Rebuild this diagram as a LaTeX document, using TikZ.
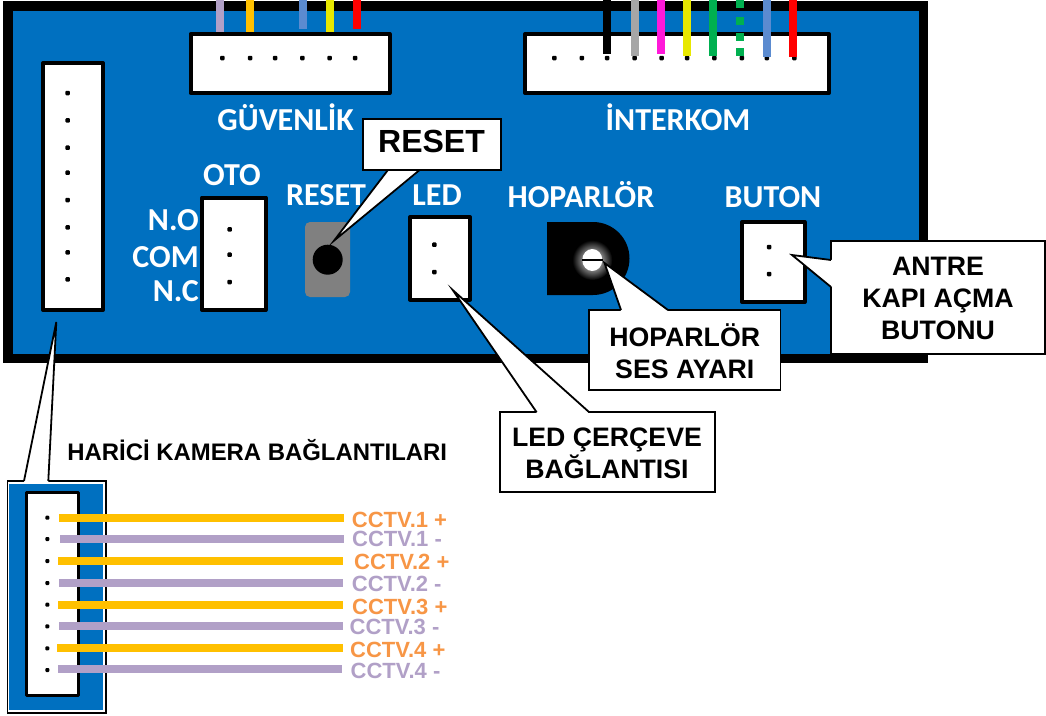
\documentclass[tikz,border=0pt]{standalone}
\usepackage{fontspec}
\setmainfont{Liberation Sans}
\newfontfamily\pcb{Carlito}
\definecolor{pcbblue}{HTML}{0070C0}
\definecolor{wgold}{HTML}{FFC000}
\definecolor{wpurple}{HTML}{B1A0C7}
\definecolor{wblue}{HTML}{5B8BD0}
\definecolor{wyellow}{HTML}{E8E800}
\definecolor{wred}{HTML}{FF0000}
\definecolor{wgray}{HTML}{A6A6A6}
\definecolor{wmag}{HTML}{FF19D9}
\definecolor{wgreen}{HTML}{00B050}
\definecolor{lorange}{HTML}{F79646}
\tikzset{
  x=1pt,y=-1pt,
  conn/.style={draw=black,line width=4pt,fill=white,line join=round},
  pin/.style={fill=black,minimum size=4.5pt,inner sep=0pt,draw=none,rectangle,rounded corners=1pt},
  wire/.style={line width=8pt},
  silk/.style={text=white,font=\pcb\bfseries\fontsize{32}{32}\selectfont,inner sep=0pt,anchor=center},
  callout/.style={draw=black,line width=1.8pt,fill=white,line join=miter},
  calltext/.style={font=\bfseries\fontsize{26.7}{32}\selectfont,align=center,inner sep=0pt,text=black},
  cam/.style={font=\bfseries\fontsize{22}{22}\selectfont,inner sep=0pt,anchor=west},
}
\begin{document}
\begin{tikzpicture}
\useasboundingbox (0,0) rectangle (1046,715);
% board
\fill[black] (3,1) rectangle (928,363);
\fill[pcbblue] (12.7,10.7) rectangle (919,354);
% connectors
\draw[conn] (43,63) rectangle (103,310);
\draw[conn] (190.5,34) rectangle (389.5,93);
\draw[conn] (525,34) rectangle (829,93);
\draw[conn] (202,197.5) rectangle (265.5,310);
\draw[conn] (410,217) rectangle (470,299.5);
\draw[conn] (742,222) rectangle (804.5,302);
% pins
\foreach \n/\yy in {1/93,2/120.3,3/147.7,4/172.7,5/200,6/227.3,7/252.3,8/279.3}
  \node[pin] (a\n) at (67.7,\yy) {};
\foreach \n/\xx in {1/222.3,2/250,3/275,4/302.3,5/329.7,6/355}
  \node[pin] (g\n) at (\xx,58) {};
\foreach \n/\xx in {1/554.4,2/581.9,3/607,4/634.5,5/661.7,6/687.1,7/714.3,8/741.8,9/766.9,10/794.4}
  \node[pin] (i\n) at (\xx,58) {};
\foreach \n/\yy in {1/229.3,2/254.7,3/282}
  \node[pin] (o\n) at (229.7,\yy) {};
\foreach \n/\yy in {1/244.7,2/272}
  \node[pin] (l\n) at (434.3,\yy) {};
\foreach \n/\yy in {1/247,2/274}
  \node[pin] (b\n) at (769,\yy) {};
% security wires
\draw[wire,wpurple] (219.7,0) -- (219.7,32);
\draw[wire,wgold] (250,0) -- (250,32);
\draw[wire,wblue] (303,0) -- (303,29);
\draw[wire,wyellow] (330,0) -- (330,32);
\draw[wire,wred] (357,0) -- (357,29);
% intercom wires
\draw[wire,black] (606.6,0) -- (606.6,54);
\draw[wire,wgray] (634.5,0) -- (634.5,56);
\draw[wire,wmag] (660.6,0) -- (660.6,54);
\draw[wire,wyellow] (687,0) -- (687,56);
\draw[wire,wgreen] (713,0) -- (713,56);
\draw[wire,wgreen] (740,0) -- (740,8) (740,17) -- (740,25) (740,33) -- (740,41) (740,48) -- (740,56);
\draw[wire,wblue] (767,0) -- (767,57);
\draw[wire,wred] (793,0) -- (793,57);
% silk labels
\node[silk] (tg) at (285.7,117) {GÜVENLİK};
\node[silk] (ti) at (678,117) {İNTERKOM};
\node[silk] (to) at (232,175) {OTO};
\node[silk] (tr) at (326,195) {RESET};
\node[silk] (tl) at (437,195) {LED};
\node[silk] (th) at (581,195) {HOPARLÖR};
\node[silk] (tb) at (773,197) {BUTON};
\node[silk,anchor=east] (tno) at (199,220) {N.O};
\node[silk,anchor=east] (tcom) at (199,257) {COM};
\node[silk,anchor=east] (tnc) at (199,291) {N.C};
% reset button
\fill[fill=black!50,rounded corners=5pt] (305,222) rectangle (350,297);
\fill[black] (327.7,259.7) circle (15);
% speaker pot
\fill[black] (547,222) -- (593,222) arc (-90:90:36.5) -- (547,295) -- cycle;
\shade[inner color=white,outer color=black] (592.3,260) circle (20);
\fill[white] (592.3,260) ellipse (10 and 11);
\draw[black,line width=2.5pt] (582,260) -- (603,260);
% callouts
\path[callout] (362.7,119) rectangle (500.7,170.3);
\coordinate (tipR) at (334,240.7);
\path[fill=white] (387.7,171.2) -- (tipR) -- (419.3,171.2) -- cycle;
\draw[callout,fill=none] (387.7,170.3) -- (tipR) -- (419.3,170.3);
\node[calltext,font=\bfseries\fontsize{32}{32}\selectfont] (cr) at (431.5,141.7) {RESET};
\path[callout] (500,412.3) rectangle (715,491.7);
\coordinate (tipL) at (452.7,290);
\path[fill=white] (536.7,413.2) -- (tipL) -- (589.3,413.2) -- cycle;
\draw[callout,fill=none] (536.7,412.3) -- (tipL) -- (589.3,412.3);
\node[calltext] (cl) at (607,453.5) {LED ÇERÇEVE\\BAĞLANTISI};
\path[callout] (589,310) rectangle (780.5,390);
\coordinate (tipH) at (604.5,263);
\path[fill=white] (621,311) -- (tipH) -- (668,311) -- cycle;
\draw[callout,fill=none] (621,310) -- (tipH) -- (668,310);
\node[calltext] (ch) at (684.7,351) {HOPARLÖR\\SES AYARI};
\path[callout] (831,241) rectangle (1045,354);
\coordinate (tipB) at (792,255);
\path[fill=white] (832,260) -- (tipB) -- (832,287) -- cycle;
\draw[callout,fill=none] (831,260) -- (tipB) -- (831,287);
\node[calltext] (cb) at (938,298.5) {ANTRE\\KAPI AÇMA\\BUTONU};
% camera callout
\path[callout] (7.5,481) rectangle (106,712.7);
\fill[pcbblue] (9.3,484) rectangle (103.3,710);
\coordinate (tipC) at (56.3,322);
\path[fill=white] (24,481.9) -- (tipC) -- (48.3,481.9) -- cycle;
\draw[callout,fill=none] (24,481) -- (tipC) -- (48.3,481);
\node[font=\bfseries\fontsize{23.9}{23.9}\selectfont,inner sep=0pt] (hk) at (257.3,450) {HARİCİ KAMERA BAĞLANTILARI};
% camera connector
\draw[conn,line width=3pt] (26,492.5) rectangle (78.5,695.5);
\foreach \n/\yy in {1/517.7,2/539,3/561,4/583,5/604.7,6/626.3,7/648.3,8/670}
  \node[pin,minimum size=4pt] (c\n) at (47.3,\yy) {};
\draw[wire,wgold] (59,518) -- (344.3,518);
\draw[wire,wpurple] (60,538.7) -- (343.7,538.7);
\draw[wire,wgold] (58,561) -- (343.3,561);
\draw[wire,wpurple] (59,583.3) -- (343,583.3);
\draw[wire,wgold] (58,604.7) -- (343.3,604.7);
\draw[wire,wpurple] (59,626.3) -- (343,626.3);
\draw[wire,wgold] (57,648) -- (343,648);
\draw[wire,wpurple] (58,669.3) -- (342,669.3);
\node[cam,text=lorange] (l1) at (351.7,520) {CCTV.1 +};
\node[cam,text=wpurple] (l2) at (352,539.3) {CCTV.1 -};
\node[cam,text=lorange] (l3) at (354,562.3) {CCTV.2 +};
\node[cam,text=wpurple] (l4) at (351.7,584.3) {CCTV.2 -};
\node[cam,text=lorange] (l5) at (352,606.7) {CCTV.3 +};
\node[cam,text=wpurple] (l6) at (349.5,627.3) {CCTV.3 -};
\node[cam,text=lorange] (l7) at (350,650) {CCTV.4 +};
\node[cam,text=wpurple] (l8) at (350.5,670.7) {CCTV.4 -};
\end{tikzpicture}
\end{document}
